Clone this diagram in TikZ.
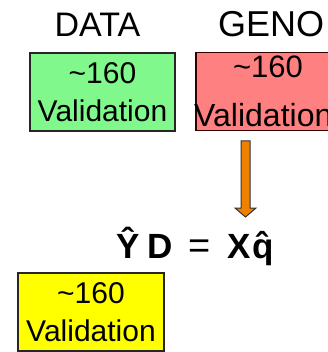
\documentclass[tikz,border=0pt]{standalone}
\usepackage{fontspec}
\setmainfont{Liberation Sans}
\usepackage{tikz}
\usetikzlibrary{positioning}
\definecolor{boxgreen}{RGB}{128,248,140}
\definecolor{boxred}{RGB}{255,128,128}
\definecolor{boxyellow}{RGB}{255,255,0}
\definecolor{arroworange}{RGB}{240,128,0}
\tikzstyle{heading} = [inner sep=0pt, anchor=base, font=\fontsize{34}{40}\selectfont]
\tikzstyle{setbox} = [rectangle, minimum width=145pt, minimum height=78pt, align=center, inner sep=0pt, line width=1.3pt, draw=black!85]
\tikzstyle{eqn} = [inner sep=0pt, anchor=base, font=\fontsize{35}{40}\selectfont\bfseries]
\tikzstyle{bigarrow} = [fill=arroworange, draw=black!80, line width=1pt, line join=miter]

\begin{document}
\begin{tikzpicture}[x=1pt, y=-1pt]
\useasboundingbox (0,0) rectangle (327,352);

\node (D) [heading] at (97.5,37) {DATA};
\node (G) [heading, anchor=base west, font=\fontsize{36}{40}\selectfont] at (218,37) {GENO};

\node (S1) [setbox, fill=boxgreen, font=\fontsize{30}{38}\selectfont] at (102.5,92) {\textasciitilde160\\Validation};

\node (S2) [setbox, fill=boxred, draw=black!80!red, minimum width=144pt] at (268,91.5) {};
\node (S2a) [inner sep=0pt, anchor=base, font=\fontsize{31}{36}\selectfont] at (268,78) {\textasciitilde160};
\node (S2b) [inner sep=0pt, anchor=base west, font=\fontsize{32}{36}\selectfont] at (194,127) {Validation};

\node (S3) [setbox, fill=boxyellow, minimum width=146pt, font=\fontsize{30}{38}\selectfont] at (91,312) {\textasciitilde160\\Validation};

% equation
\node (E1) [eqn] at (128,258) {Ŷ};
\node (E2) [eqn] at (160,258) {D};
\node (E3) [eqn, font=\fontsize{38}{40}\selectfont] at (200,258) {=};
\node (E4) [eqn] at (239,258) {X};
\node (E5) [eqn] at (263.5,258) {\^{q}};

% block arrow from GENO box down to the equation
\coordinate (tip) at (245.5,217);
\draw [bigarrow] (tip) -- ++(10.5,-9) -- ++(-6,0) -- ++(0,-67) -- ++(-9,0) -- ++(0,67) -- ++(-6,0) -- cycle;
\end{tikzpicture}
\end{document}
